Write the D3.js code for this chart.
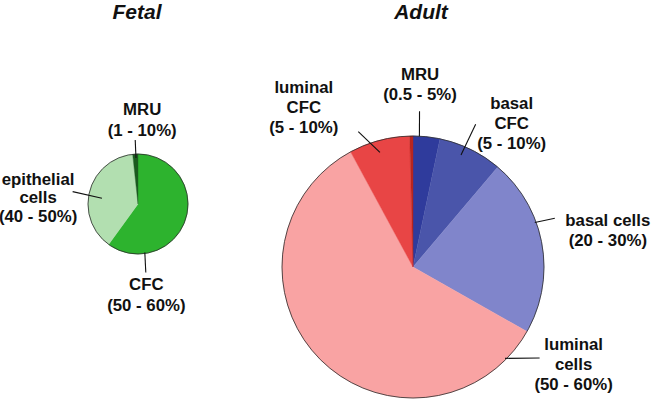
<!DOCTYPE html>
<html>
<head>
<meta charset="utf-8">
<script src="https://cdn.jsdelivr.net/npm/d3@7"></script>
<style>
  html, body { margin: 0; padding: 0; background: #fff; }
  svg { display: block; }
  text { font-family: "Liberation Sans", Arial, Helvetica, sans-serif; font-weight: bold; fill: #111; }
</style>
</head>
<body>
<svg id="chart" width="653" height="401"></svg>
<script>
// ---- data ----
const fetalCategories = ["CFC", "epithelial cells", "MRU"];
const fetalValues = [60, 38.3, 1.7];
const fetalLabels = [["CFC", "(50 - 60%)"], ["epithelial", "cells", "(40 - 50%)"], ["MRU", "(1 - 10%)"]];

const adultCategories = ["MRU", "basal CFC", "basal cells", "luminal cells", "luminal CFC", "MRU (luminal)"];
const adultValues = [3.3, 7.9, 22.0, 58.9, 7.5, 0.4];
const adultLabels = [["MRU", "(0.5 - 5%)"], ["basal", "CFC", "(5 - 10%)"], ["basal cells", "(20 - 30%)"],
                     ["luminal", "cells", "(50 - 60%)"], ["luminal", "CFC", "(5 - 10%)"], null];

const titles = ["Fetal", "Adult"];

// ---- layout / style (not data) ----
const fetalColors = ["#2db32e", "#b2dfb0", "#1a5a1e"];
const adultColors = ["#2f3b9c", "#4a55aa", "#8085cb", "#f9a3a3", "#e84545", "#b8261f"];

// leader: [angleDeg1, rFrac1, angleDeg2, rFrac2], text: [dx, dy, lineHeight] from outer end
const fetalLayout = [
  { leader: [172, 0.98, 173.5, 1.38], text: [0.5, 17.5, 21] },
  { leader: [279, 0.73, 280.7, 1.33], text: [-34.6, -6.9, 18.4] },
  { leader: [357.5, 0.92, 357.5, 1.28], text: [7, -25, 21] }
];
const adultLayout = [
  { leader: [2.8, 1.0, 2.4, 1.19], text: [0.5, -31, 20] },
  { leader: [23.2, 0.93, 23.7, 1.19], text: [36, -15.7, 20] },
  { leader: [69.9, 0.99, 71, 1.145], text: [53, 8.2, 20] },
  { leader: [134.8, 0.99, 125.7, 1.19], text: [34, -8.3, 20] },
  { leader: [343.9, 0.91, 338, 1.115], text: [-54.5, -38.4, 19.7] },
  null
];

const svg = d3.select("#chart");

function drawPie(cx, cy, r, values, colors, labels, layout, title, titleX) {
  const g = svg.append("g").attr("transform", `translate(${cx},${cy})`);
  const pie = d3.pie().sort(null).startAngle(0).endAngle(2 * Math.PI);
  const arc = d3.arc().innerRadius(0).outerRadius(r);
  const arcs = pie(values);
  g.selectAll("path.slice").data(arcs).join("path")
    .attr("class", "slice")
    .attr("d", arc)
    .attr("fill", (d, i) => colors[i])
    .attr("stroke", (d, i) => colors[i])
    .attr("stroke-width", 0.4);
  g.append("circle").attr("r", r).attr("fill", "none").attr("stroke", "#2a2a2a").attr("stroke-width", 0.8);

  const pt = (deg, f) => {
    const a = deg * Math.PI / 180;
    return [Math.sin(a) * r * f, -Math.cos(a) * r * f];
  };
  labels.forEach((lines, i) => {
    const L = layout[i];
    if (!lines || !L) return;
    const p1 = pt(L.leader[0], L.leader[1]);
    const p2 = pt(L.leader[2], L.leader[3]);
    g.append("line").attr("x1", p1[0]).attr("y1", p1[1]).attr("x2", p2[0]).attr("y2", p2[1])
      .attr("stroke", "#111").attr("stroke-width", 1.1);
    const t = g.append("text").attr("text-anchor", "middle").style("font-size", "16.8px");
    lines.forEach((s, j) => {
      t.append("tspan").attr("x", p2[0] + L.text[0]).attr("y", p2[1] + L.text[1] + j * L.text[2]).text(s);
    });
  });

  svg.append("text").attr("x", titleX).attr("y", 19)
    .attr("text-anchor", "middle")
    .style("font-size", "21px").style("font-style", "italic")
    .text(title);
}

drawPie(138, 204, 50, fetalValues, fetalColors, fetalLabels, fetalLayout, titles[0], 137);
drawPie(413, 267, 131, adultValues, adultColors, adultLabels, adultLayout, titles[1], 421);
</script>
</body>
</html>
